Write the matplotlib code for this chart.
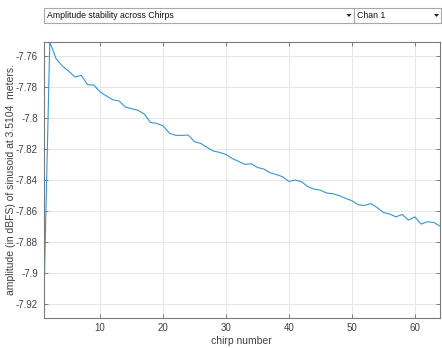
import matplotlib
matplotlib.use("Agg")
import matplotlib.pyplot as plt
from matplotlib.patches import Rectangle, Polygon
import numpy as np

plt.rcParams['font.family'] = ['Liberation Sans', 'DejaVu Sans']

chirps = list(range(1, 65))
amplitude_dbfs = [
    -7.9288, -7.7512, -7.7620, -7.7667, -7.7700, -7.7737, -7.7727, -7.7787,
    -7.7790, -7.7834, -7.7860, -7.7884, -7.7892, -7.7931, -7.7942, -7.7952,
    -7.7976, -7.8030, -7.8037, -7.8052, -7.8100, -7.8114, -7.8114, -7.8112,
    -7.8155, -7.8166, -7.8192, -7.8215, -7.8224, -7.8237, -7.8263, -7.8282,
    -7.8301, -7.8297, -7.8321, -7.8331, -7.8355, -7.8366, -7.8381, -7.8411,
    -7.8402, -7.8413, -7.8445, -7.8460, -7.8467, -7.8486, -7.8490, -7.8503,
    -7.8520, -7.8535, -7.8561, -7.8566, -7.8553, -7.8579, -7.8611, -7.8621,
    -7.8639, -7.8624, -7.8660, -7.8639, -7.8686, -7.8671, -7.8675, -7.8699,
]
x_ticks = [10, 20, 30, 40, 50, 60]
y_ticks = [-7.92, -7.9, -7.88, -7.86, -7.84, -7.82, -7.8, -7.78, -7.76]
y_tick_labels = ['-7.92', '-7.9', '-7.88', '-7.86', '-7.84', '-7.82', '-7.8', '-7.78', '-7.76']
menu_text = "Amplitude stability across Chirps"
chan_text = "Chan 1"

W, H = 442, 348
fig = plt.figure(figsize=(W / 100, H / 100), dpi=100)
fig.patch.set_facecolor('white')

def fx(px):
    return px / W

def fy(py):
    return 1 - py / H

ax_l, ax_r, ax_t, ax_b = 43.5, 440.0, 42.0, 317.5
ax = fig.add_axes([fx(ax_l), fy(ax_b), (ax_r - ax_l) / W, (ax_b - ax_t) / H])

ax.plot(chirps, amplitude_dbfs, color='#3b93d2', lw=0.8)
ax.set_xlim(min(chirps), max(chirps))
ax.set_ylim(min(amplitude_dbfs), max(amplitude_dbfs))
ax.set_xticks(x_ticks)
ax.set_xticklabels([str(t) for t in x_ticks])
ax.set_yticks(y_ticks)
ax.set_yticklabels(y_tick_labels)
ax.grid(True, color='#e6e6e6', lw=0.7)
ax.set_axisbelow(True)
spine_col = '#7a7a7a'
for s in ax.spines.values():
    s.set_color(spine_col)
    s.set_linewidth(0.8)
ax.tick_params(direction='in', length=3, width=0.7, color=spine_col,
               labelsize=7, labelcolor='#404040', top=True, right=True, pad=4)
ax.set_xlabel('chirp number', fontsize=7.5, color='#404040', labelpad=2)
ax.set_ylabel('amplitude (in dBFS) of sinusoid at 3.5104  meters.', fontsize=7.5,
              color='#404040', labelpad=0)

# Dropdown widgets
def dropdown(x0, x1, y0, y1, text, arrow_x):
    r = Rectangle((fx(x0), fy(y1)), (x1 - x0) / W, (y1 - y0) / H,
                  transform=fig.transFigure, facecolor='white',
                  edgecolor='#a8a8a8', lw=0.8)
    fig.add_artist(r)
    fig.text(fx(x0 + 3), fy((y0 + y1) / 2), text, fontsize=6.3, color='#111111',
             va='center', ha='left')
    cy = (y0 + y1) / 2
    tri = Polygon([(fx(arrow_x - 2.5), fy(cy - 1.5)), (fx(arrow_x + 2.5), fy(cy - 1.5)),
                   (fx(arrow_x), fy(cy + 1.5))], closed=True,
                  transform=fig.transFigure, facecolor='#222222', edgecolor='none')
    fig.add_artist(tri)

dropdown(44, 354, 8.3, 22.7, menu_text, 349)
dropdown(354, 441, 8.3, 22.7, chan_text, 436.5)

fig.savefig('out.png', dpi=100, facecolor='white')
